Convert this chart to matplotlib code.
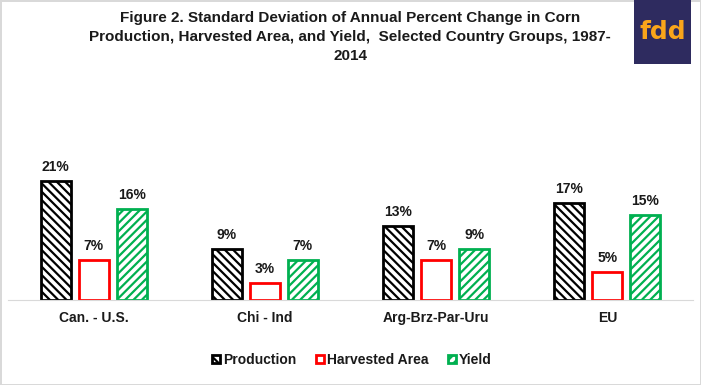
import numpy as np
from matplotlib import pyplot as plt
from matplotlib.patches import Patch

groups = ['Can. - U.S.', 'Chi - Ind', 'Arg-Brz-Par-Uru', 'EU']
production = [21, 9, 13, 17]
harvested = [7, 3, 7, 5]
yld = [16, 7, 9, 15]
series_names = ['Production', 'Harvested Area', 'Yield']

plt.rcParams['font.family'] = ['Liberation Sans Narrow', 'Liberation Sans', 'DejaVu Sans']
plt.rcParams['hatch.linewidth'] = 1.6

W, H = 701, 385
fig = plt.figure(figsize=(W / 100, H / 100), dpi=100)
fig.patch.set_edgecolor('#d9d9d9')
fig.patch.set_linewidth(2)

# plot area in pixels
left, right, bottom, top = 8, 693, 300, 158
ax = fig.add_axes([left / W, 1 - bottom / H, (right - left) / W, (bottom - top) / H])

x = np.arange(len(groups))
bw = 0.176
off = 0.222
txt = '#1a1a1a'

b1 = ax.bar(x - off, production, bw, facecolor='white', edgecolor='black',
            hatch='\\\\\\\\', linewidth=2)
b2 = ax.bar(x, harvested, bw, facecolor='white', edgecolor='#ff0000', linewidth=2)
b3 = ax.bar(x + off, yld, bw, facecolor='white', edgecolor='#00b050',
            hatch='////', linewidth=2)

for bars, vals in [(b1, production), (b2, harvested), (b3, yld)]:
    for r, v in zip(bars, vals):
        ax.annotate(f'{v}%', (r.get_x() + r.get_width() / 2, v), xytext=(0, 5),
                    textcoords='offset points', ha='center', va='bottom',
                    fontsize=10, fontweight='bold', color=txt)

ax.set_xlim(-0.5, 3.5)
ax.set_ylim(0, 25)
ax.set_yticks([])
ax.set_xticks(x)
ax.set_xticklabels(groups, fontsize=10, fontweight='bold', color=txt)
ax.tick_params(axis='x', length=0, pad=8)
for s in ['top', 'left', 'right']:
    ax.spines[s].set_visible(False)
ax.spines['bottom'].set_color('#d9d9d9')
ax.patch.set_alpha(0)

handles = [Patch(facecolor='white', edgecolor='black', hatch='\\\\\\', linewidth=2),
           Patch(facecolor='white', edgecolor='#ff0000', linewidth=2),
           Patch(facecolor='white', edgecolor='#00b050', hatch='////', linewidth=2)]
fig.legend(handles, series_names, loc='center', bbox_to_anchor=(352 / W, 1 - 360 / H),
           ncol=3, frameon=False, prop={'weight': 'bold', 'size': 10},
           handlelength=0.55, handleheight=0.55, handletextpad=0.25, columnspacing=1.4,
           labelcolor=txt)

fig.text(350 / W, 1 - 37 / H,
         'Figure 2. Standard Deviation of Annual Percent Change in Corn\n'
         'Production, Harvested Area, and Yield,  Selected Country Groups, 1987-\n'
         '2014', ha='center', va='center', fontsize=11, fontweight='bold',
         color=txt, linespacing=1.45)

# fdd logo
lax = fig.add_axes([634 / W, 1 - 64 / H, 57 / W, 64 / H])
lax.set_facecolor('#2e2b5f')
lax.set_xticks([])
lax.set_yticks([])
for s in lax.spines.values():
    s.set_visible(False)
lax.text(0.5, 0.5, 'fdd', ha='center', va='center', fontsize=18,
         fontweight='bold', color='#f9a51a', family='DejaVu Sans',
         transform=lax.transAxes)

fig.savefig('out.png', dpi=100)
